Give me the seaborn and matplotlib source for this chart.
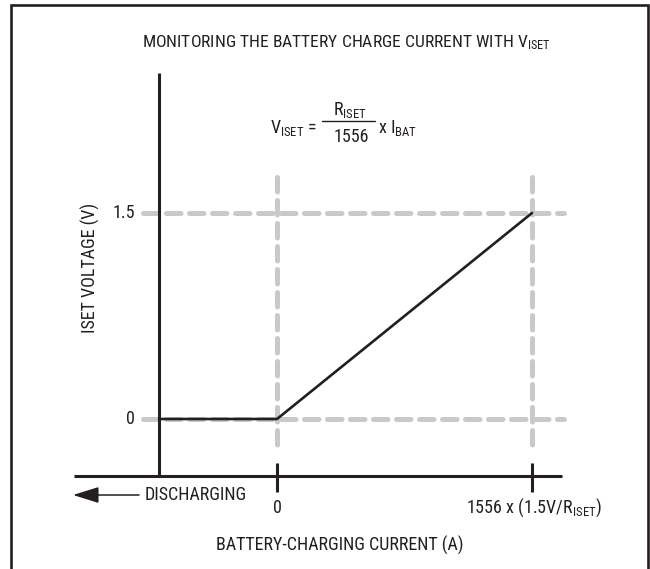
import matplotlib
matplotlib.use("Agg")
import matplotlib.pyplot as plt
from matplotlib import font_manager
import seaborn as sns
import pandas as pd

# ISET voltage versus battery current (current in units of 1556 x 1.5V/RISET,
# negative values = discharging, clamped at 0 V)
current = [-0.4627, 0.0, 1.0]
iset_voltage = [0.0, 0.0, 1.5]
y_ticks = [0.0, 1.5]
y_tick_labels = ["0", "1.5"]
x_ticks = [0.0, 1.0]
x_tick_labels = ["0", r"1556 x (1.5V/R$_{\mathrm{ISET}}$)"]
title = r"MONITORING THE BATTERY CHARGE CURRENT WITH V$_{\mathrm{ISET}}$"
x_label = "BATTERY-CHARGING CURRENT (A)"
y_label = "ISET VOLTAGE (V)"

W, H = 650, 569
DARK = "#231f20"
GRID = "#c8c9cb"

sns.set_theme(style="white")
names = {f.name for f in font_manager.fontManager.ttflist}
fam = next(n for n in ["Roboto Condensed", "Archivo Narrow", "PT Sans Narrow",
                       "Liberation Sans Narrow", "Liberation Sans"] if n in names)
plt.rcParams["font.family"] = [fam, "DejaVu Sans"]
plt.rcParams["font.weight"] = "normal"
plt.rcParams["mathtext.fontset"] = "custom"
plt.rcParams["mathtext.rm"] = fam
plt.rcParams["mathtext.it"] = fam
plt.rcParams["mathtext.bf"] = fam
FS = 13.0

fig = plt.figure(figsize=(W / 100, H / 100), dpi=100)
ax = fig.add_axes([0, 0, 1, 1])

# pixel layout helpers -> data units
X0, XS = 277, 255.0
Y0, YS = 419, (419 - 213) / 1.5
def X(px):
    return (px - X0) / XS
def Y(py):
    return (Y0 - py) / YS

# outer frame (open at the bottom)
ax.plot([X(11.5), X(11.5), X(648), X(648)], [Y(H + 20), Y(4.5), Y(4.5), Y(H + 20)],
        color=DARK, lw=1.9, clip_on=False, solid_joinstyle="miter")

# grey dashed reference lines
dash = dict(color=GRID, lw=3.6, dashes=(2.9, 1.7), dash_capstyle="round", zorder=1)
for yv in y_ticks:
    ax.plot([X(143), X(564)], [yv, yv], **dash)
for xv in x_ticks:
    ax.plot([xv, xv], [Y(177), Y(452)], **dash)

# axes
ax_x = current[0]
ax_y = Y(476)
ax.plot([ax_x, ax_x], [Y(73), ax_y], color=DARK, lw=2.2, solid_capstyle="butt", zorder=3)
ax.plot([X(74), X(562)], [ax_y, ax_y], color=DARK, lw=2.2, solid_capstyle="butt", zorder=3)
for xv in x_ticks:
    ax.plot([xv, xv], [Y(463), Y(492)], color=DARK, lw=2.2, solid_capstyle="butt", zorder=3)

# transfer curve
df = pd.DataFrame({"current": current, "viset": iset_voltage})
sns.lineplot(data=df, x="current", y="viset", ax=ax, color=DARK, lw=1.9,
             sort=False, zorder=4, legend=False)
ax.set_xlim(X(0), X(W))
ax.set_ylim(Y(H), Y(0))
ax.axis("off")

# tick labels
for yv, lab in zip(y_ticks, y_tick_labels):
    ax.text(X(135), yv, lab, ha="right", va="center", fontsize=FS, color=DARK)
ax.text(x_ticks[0], Y(508), x_tick_labels[0], ha="center", va="center", fontsize=FS, color=DARK)
ax.text(X(534), Y(508), x_tick_labels[1], ha="center", va="center", fontsize=FS, color=DARK)

# axis labels and title
ax.text(X(340), Y(545), x_label, ha="center", va="center", fontsize=FS, color=DARK)
ax.text(X(90), Y(268), y_label, ha="center", va="center", rotation=90, fontsize=FS, color=DARK)
ax.text(X(346), Y(47), title, ha="center", va="baseline", fontsize=12.6, color=DARK)

# discharging arrow
ax.annotate("", xy=(X(73), Y(495)), xytext=(X(139), Y(495)),
            arrowprops=dict(arrowstyle="-|>,head_length=0.8,head_width=0.25",
                            color=DARK, lw=1.1, mutation_scale=20, shrinkA=0, shrinkB=0))
ax.text(X(145), Y(495), "DISCHARGING", ha="left", va="center", fontsize=FS, color=DARK)

# formula
ax.text(X(317), Y(133), r"V$_{\mathrm{ISET}}$ =", ha="right", va="baseline", fontsize=FS, color=DARK)
ax.plot([X(322), X(375)], [Y(121), Y(121)], color=DARK, lw=1.0)
ax.text(X(350), Y(115), r"R$_{\mathrm{ISET}}$", ha="center", va="baseline", fontsize=FS, color=DARK)
ax.text(X(351), Y(142), "1556", ha="center", va="baseline", fontsize=FS, color=DARK)
ax.text(X(378), Y(133), r"x I$_{\mathrm{BAT}}$", ha="left", va="baseline", fontsize=FS, color=DARK)

fig.savefig("out.png", dpi=100)
